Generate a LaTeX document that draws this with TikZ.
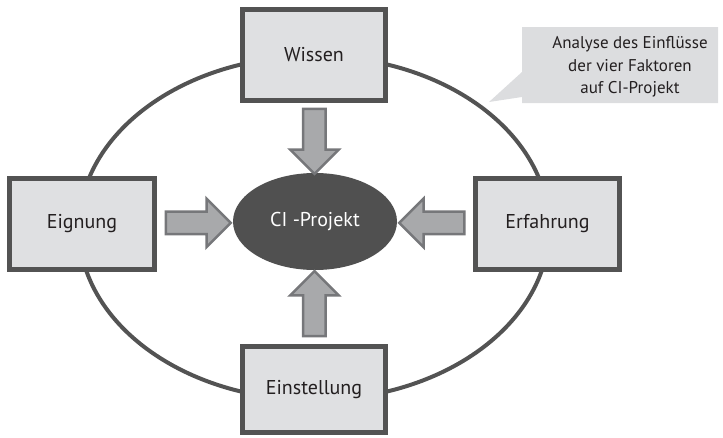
\documentclass[tikz,border=0pt]{standalone}
\usepackage{fontspec}
\setmainfont{PT Sans}
\usetikzlibrary{shapes.geometric,shapes.arrows}
\definecolor{boxfill}{HTML}{DFE0E2}
\definecolor{boxline}{HTML}{535353}
\definecolor{arrfill}{HTML}{A8A9AB}
\definecolor{arrline}{HTML}{76777A}
\definecolor{cifill}{HTML}{505050}
\definecolor{callfill}{HTML}{DCDDDF}
\definecolor{txt}{HTML}{231F20}
\tikzset{
  factor/.style={draw=boxline, line width=5pt, fill=boxfill, rectangle, inner sep=0pt,
    minimum width=143pt, minimum height=91pt, font=\fontsize{20}{22}\selectfont, text=txt},
  blockarr/.style={single arrow, draw=arrline, line width=2.5pt, fill=arrfill,
    minimum height=65pt, inner sep=0pt, minimum width=48pt,
    single arrow head extend=13pt, single arrow tip angle=90, text width=0pt, text height=20pt}
}
\begin{document}
\begin{tikzpicture}[x=1pt,y=-1pt]
\useasboundingbox (0,0) rectangle (723,437);
% big ellipse
\draw[boxline, line width=4pt] (314,228) ellipse [x radius=235pt, y radius=172pt];
% callout
\fill[callfill] (522,27) -- (718,27) -- (718,103) -- (522,103) -- (522,97) -- (489,102) -- (522,72) -- cycle;
\node[align=center, text=txt, font=\fontsize{17}{22.5}\selectfont] (note) at (630,67)
  {Analyse des Einflüsse\\der vier Faktoren\\auf CI-Projekt};
% boxes
\node[factor] (wis) at (314,55) {Wissen};
\node[factor, minimum width=145pt] (eig) at (82,224) {Eignung};
\node[factor, minimum width=144pt] (erf) at (547.5,224) {Erfahrung};
\node[factor, minimum height=86pt] (ein) at (314,389.5) {Einstellung};
% centre
\node[ellipse, fill=cifill, minimum width=164pt, minimum height=97pt, inner sep=0pt,
  text=white, font=\fontsize{20}{22}\selectfont] (ci) at (315,221.5) {CI -Projekt};
% arrows
\path (eig.east) -- (ci.west) node[pos=0.47, blockarr, rotate=0] (a1) {};
\path (erf.west) -- (ci.east) node[pos=0.47, blockarr, rotate=180] (a2) {};
\path (wis.south) -- (ci.north) node[pos=0.47, blockarr, rotate=-90] (a3) {};
\path (ein.north) -- (ci.south) node[pos=0.47, blockarr, rotate=90] (a4) {};
\end{tikzpicture}
\end{document}
